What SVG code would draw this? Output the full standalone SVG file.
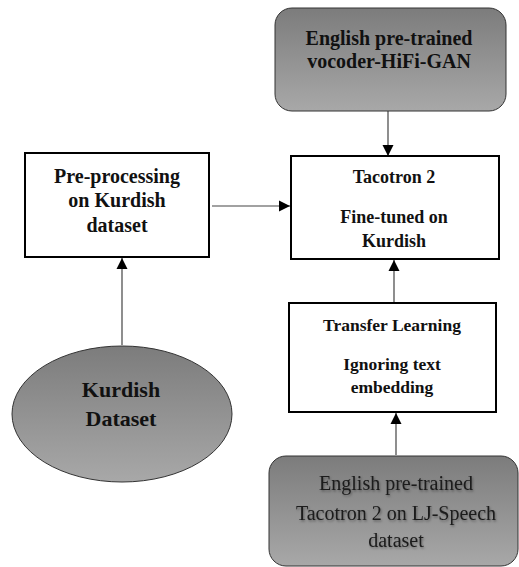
<svg xmlns="http://www.w3.org/2000/svg" width="519" height="567" viewBox="0 0 519 567">
  <style>
    .box { fill: #ffffff; stroke: #000000; stroke-width: 2; }
    .gray { fill: url(#g); stroke: #333333; stroke-width: 1; }
    .b { font-family: "Liberation Serif", "Times New Roman", serif; font-weight: bold; fill: #111111; text-anchor: middle; }
    .r { font-family: "Liberation Serif", "Times New Roman", serif; fill: #1a1a1a; text-anchor: middle; font-size: 20px; filter: url(#sh); }
    .conn { stroke: #444444; stroke-width: 1.2; fill: none; marker-end: url(#ah); }
  </style>
  <defs>
    <linearGradient id="g" x1="0" y1="0" x2="0" y2="1">
      <stop offset="0" stop-color="#7c7c7c"/>
      <stop offset="1" stop-color="#a8a8a8"/>
    </linearGradient>
    <filter id="sh" x="-10%" y="-30%" width="120%" height="160%">
      <feDropShadow dx="1" dy="1.5" stdDeviation="1" flood-color="#000000" flood-opacity="0.35"/>
    </filter>
    <marker id="ah" markerUnits="userSpaceOnUse" markerWidth="12" markerHeight="12" refX="11" refY="6" orient="auto">
      <path d="M0,0.5 L11,6 L0,11.5 z" fill="#000000"/>
    </marker>
  </defs>

  <g id="connectors">
    <line class="conn" x1="388" y1="111" x2="388" y2="156"/>
    <line class="conn" x1="212" y1="206" x2="290" y2="206"/>
    <line class="conn" x1="122" y1="345" x2="122" y2="258"/>
    <line class="conn" x1="394" y1="303" x2="394" y2="260"/>
    <line class="conn" x1="396" y1="455" x2="396" y2="413"/>
  </g>

  <g id="hifigan">
    <rect class="gray" x="275" y="8" width="231" height="103" rx="17"/>
    <text class="b" font-size="20" x="389" y="45">English pre-trained</text>
    <text class="b" font-size="20" x="389" y="68">vocoder-HiFi-GAN</text>
  </g>

  <g id="tacotron">
    <rect class="box" x="291" y="156" width="208" height="103"/>
    <text class="b" font-size="18" x="394" y="183">Tacotron 2</text>
    <text class="b" font-size="18" x="394" y="223">Fine-tuned on</text>
    <text class="b" font-size="18" x="394" y="247">Kurdish</text>
  </g>

  <g id="preprocessing">
    <rect class="box" x="25" y="153" width="184" height="104"/>
    <text class="b" font-size="20" x="117" y="183">Pre-processing</text>
    <text class="b" font-size="20" x="117" y="207">on Kurdish</text>
    <text class="b" font-size="20" x="117" y="232">dataset</text>
  </g>

  <g id="kurdish-dataset">
    <ellipse class="gray" cx="122" cy="414" rx="110" ry="68"/>
    <text class="b" font-size="22" x="121" y="397">Kurdish</text>
    <text class="b" font-size="22" x="121" y="426">Dataset</text>
  </g>

  <g id="transfer">
    <rect class="box" x="289" y="303" width="207" height="109"/>
    <text class="b" font-size="17.5" x="392" y="331">Transfer Learning</text>
    <text class="b" font-size="17.5" x="392" y="370">Ignoring text</text>
    <text class="b" font-size="17.5" x="392" y="393">embedding</text>
  </g>

  <g id="ljspeech">
    <rect class="gray" x="269" y="456" width="249" height="110" rx="17"/>
    <text class="r" x="396" y="490">English pre-trained</text>
    <text class="r" x="396" y="520">Tacotron 2 on LJ-Speech</text>
    <text class="r" x="396" y="547">dataset</text>
  </g>
</svg>
